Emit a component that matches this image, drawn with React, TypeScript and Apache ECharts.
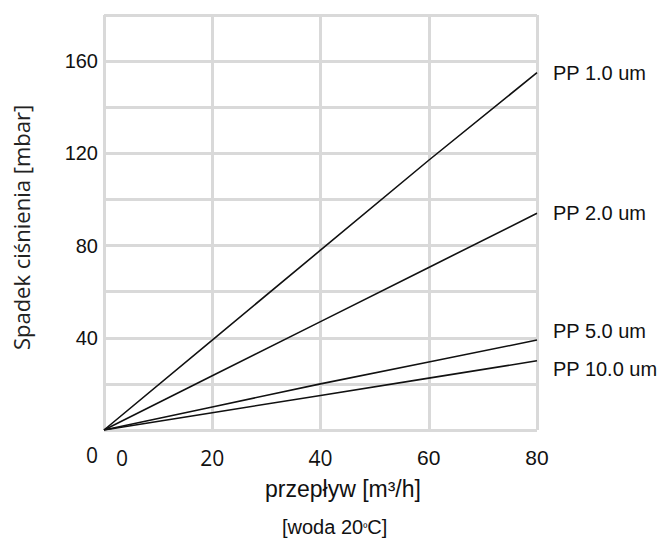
import React, { useEffect, useRef } from "react";
import * as echarts from "echarts";

const flow = [0, 20, 40, 60, 80];
const pp10 = [0, 39, 78, 117, 155];
const pp20 = [0, 23.5, 47, 70.5, 94];
const pp50 = [0, 10, 20, 29.5, 39];
const pp100 = [0, 7.5, 15, 22.5, 30];
const seriesNames = ["PP 1.0 um", "PP 2.0 um", "PP 5.0 um", "PP 10.0 um"];
const yTickLabels = [40, 80, 120, 160];
const xTickLabels = [0, 20, 40, 60, 80];
const xTitle = "przepływ [m³/h]";
const yTitle = "Spadek ciśnienia [mbar]";

const SANS = "Liberation Sans, Arial, sans-serif";
const OPEN = "Open Sans, sans-serif";

export default function App() {
  const ref = useRef<HTMLDivElement>(null);
  useEffect(() => {
    if (!ref.current) return;
    const chart = echarts.init(ref.current, undefined, { renderer: "svg" });
    const allData = [pp10, pp20, pp50, pp100];
    const offsets = [
      [0, 0],
      [0, 0],
      [0, -9],
      [0, 8],
    ];
    chart.setOption({
      animation: false,
      backgroundColor: "#ffffff",
      grid: {
        left: 104,
        right: 123,
        top: 15,
        bottom: 109,
        outerBoundsMode: "none",
        show: false,
      },
      xAxis: {
        type: "value",
        min: 0,
        max: 80,
        interval: 20,
        axisLine: { show: false },
        axisTick: { show: false },
        splitLine: { show: true, lineStyle: { color: "#d9d9d9", width: 3 } },
        axisLabel: {
          margin: 17,
          color: "#111",
          formatter: (v: number) => {
            if (!xTickLabels.includes(v)) return "";
            if (v === 0) return "{z|0}";
            if (v <= 40) return "{o|" + v + "}";
            return "{l|" + v + "}";
          },
          rich: {
            z: { fontFamily: OPEN, fontSize: 21, color: "#111", padding: [0, 0, 0, 36] },
            o: { fontFamily: OPEN, fontSize: 21, color: "#111" },
            l: { fontFamily: SANS, fontSize: 21, color: "#111" },
          },
        },
      },
      yAxis: {
        type: "value",
        min: 0,
        max: 180,
        interval: 20,
        axisLine: { show: false },
        axisTick: { show: false },
        splitLine: { show: true, lineStyle: { color: "#d9d9d9", width: 3 } },
        name: yTitle,
        nameLocation: "middle",
        nameGap: 72,
        nameRotate: 90,
        nameTextStyle: {
          fontFamily: OPEN,
          fontSize: 22,
          color: "#222",
          padding: [0, 10, 0, 0],
        },
        axisLabel: {
          margin: 6,
          color: "#111",
          formatter: (v: number) => {
            if (v === 0) return "{z|0}";
            return yTickLabels.includes(v) ? "{l|" + v + "}" : "";
          },
          rich: {
            z: { fontFamily: OPEN, fontSize: 21, color: "#111", padding: [50, 0, 0, 0] },
            l: { fontFamily: SANS, fontSize: 20, color: "#111" },
          },
        },
      },
      graphic: [
        {
          type: "text",
          left: 265,
          top: 477,
          style: {
            text: xTitle,
            fontFamily: SANS,
            fontSize: 23,
            fill: "#111",
          },
        },
        {
          type: "text",
          left: 282,
          top: 517,
          style: {
            text: "[woda 20{d|º}C]",
            fontFamily: SANS,
            fontSize: 20,
            fill: "#111",
            rich: {
              d: { fontSize: 11, fontFamily: SANS, fill: "#111" },
            },
          },
        },
      ],
      series: allData.map((d, i) => ({
        type: "line",
        name: seriesNames[i],
        data: flow.map((x, k) => [x, d[k]]),
        showSymbol: false,
        symbol: "none",
        lineStyle: { color: "#111", width: 1.6 },
        endLabel: {
          show: true,
          formatter: "{a}",
          distance: 16,
          offset: offsets[i],
          fontFamily: SANS,
          fontSize: 20,
          color: "#111",
        },
      })),
    });
    return () => chart.dispose();
  }, []);
  return (
    <div
      ref={ref}
      style={{ position: "fixed", left: 0, top: 0, width: 660, height: 539 }}
    />
  );
}
